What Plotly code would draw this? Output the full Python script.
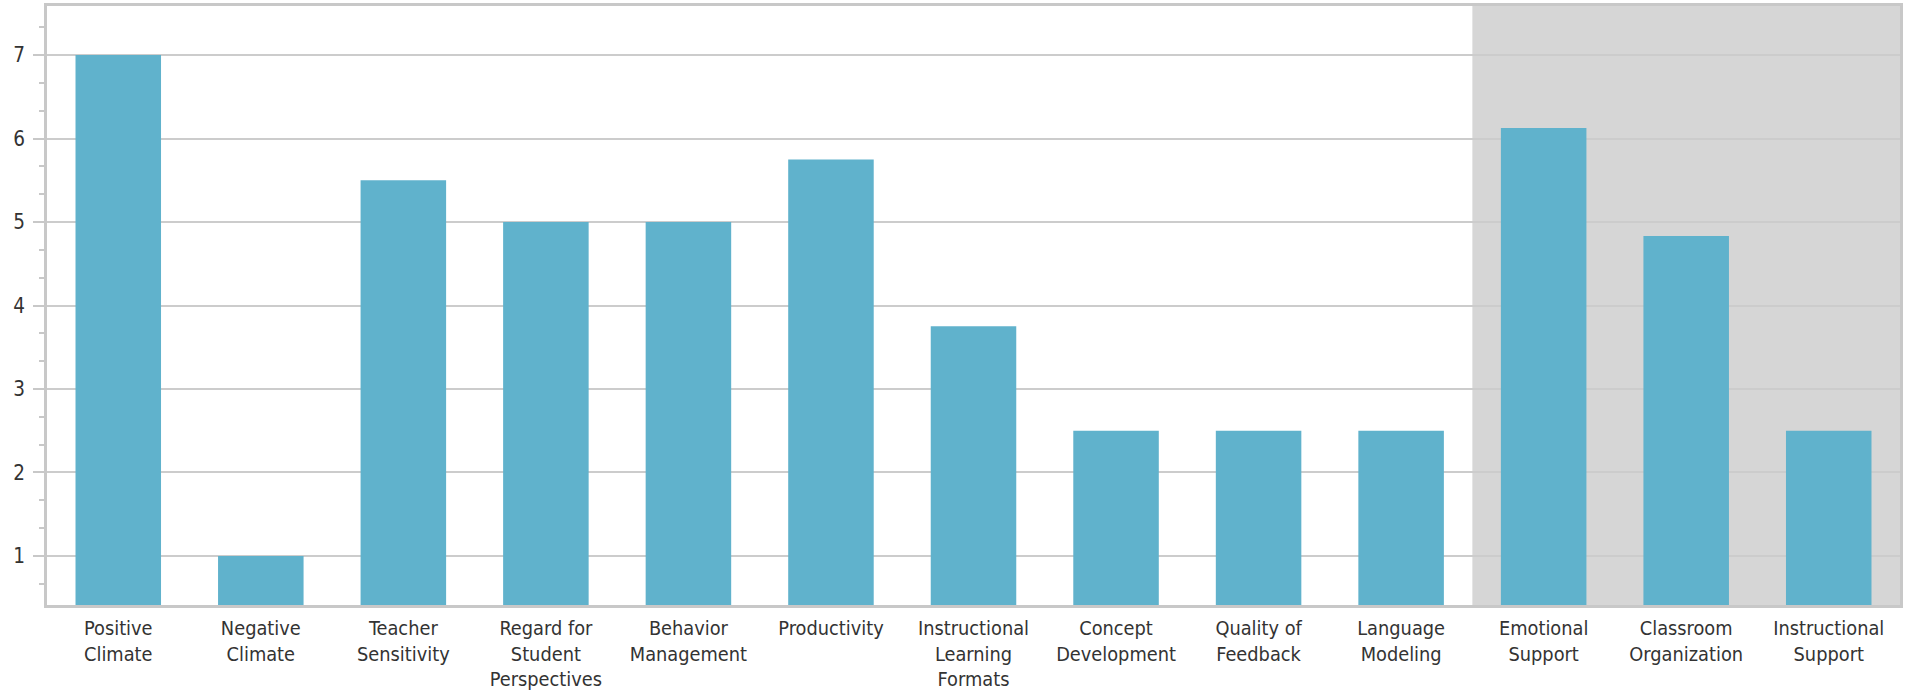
import plotly.graph_objects as go

categories = [
    "Positive<br>Climate", "Negative<br>Climate", "Teacher<br>Sensitivity",
    "Regard for<br>Student<br>Perspectives", "Behavior<br>Management", "Productivity",
    "Instructional<br>Learning<br>Formats", "Concept<br>Development", "Quality of<br>Feedback",
    "Language<br>Modeling", "Emotional<br>Support", "Classroom<br>Organization",
    "Instructional<br>Support",
]
scores = [7, 1, 5.5, 5, 5, 5.75, 3.75, 2.5, 2.5, 2.5, 6.125, 4.833, 2.5]
y_ticks = [1, 2, 3, 4, 5, 6, 7]
shaded_from = 9.5
shaded_to = 12.5

FONT = "DejaVu Sans Condensed, DejaVu Sans, sans-serif"
GRID = "#cccccc"
AXIS = "#c8c8c8"

fig = go.Figure()
fig.add_trace(go.Bar(
    x=list(range(len(categories))), y=scores,
    marker=dict(color="#60b2cc", line=dict(width=0)),
    width=0.6,
))

fig.add_shape(type="rect", xref="x", yref="paper",
              x0=shaded_from, x1=shaded_to, y0=0, y1=1,
              fillcolor="#d6d6d6", line=dict(width=0), layer="below")

fig.update_layout(
    width=1911, height=692,
    margin=dict(l=47, r=11, t=6, b=87),
    paper_bgcolor="white", plot_bgcolor="white",
    showlegend=False,
    font=dict(family=FONT, size=20.5, color="#333333"),
)
fig.update_xaxes(
    range=[-0.5, len(categories) - 0.5],
    tickmode="array", tickvals=list(range(len(categories))), ticktext=categories,
    tickfont=dict(size=19.8),
    showgrid=False, showline=True, linecolor=AXIS, linewidth=3, mirror=True,
    ticks="", ticklabelstandoff=3, zeroline=False, automargin=False,
)
fig.update_yaxes(
    range=[0.413, 7.587],
    tickmode="array", tickvals=y_ticks,
    showgrid=True, gridcolor=GRID, gridwidth=2,
    showline=True, linecolor=AXIS, linewidth=3, mirror=True,
    ticks="outside", ticklen=11, tickcolor=AXIS, tickwidth=2,
    minor=dict(tick0=1, dtick=1/3, ticks="outside", ticklen=5, tickcolor=AXIS,
               tickwidth=2, showgrid=False),
    zeroline=False, ticklabelstandoff=4, automargin=False,
)

fig.write_html("out.html")
